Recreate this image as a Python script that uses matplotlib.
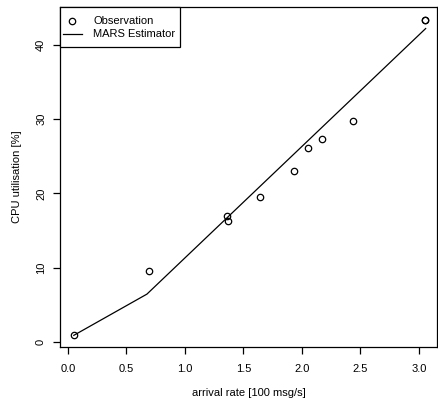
import matplotlib
matplotlib.use("Agg")
import matplotlib.pyplot as plt
from matplotlib.lines import Line2D
from matplotlib.patches import Rectangle

plt.rcParams['font.family'] = ['Liberation Sans', 'DejaVu Sans']

obs_x = [0.05, 0.69, 1.36, 1.37, 1.64, 1.93, 2.05, 2.17, 2.44, 3.05, 3.055]
obs_y = [0.95, 9.5, 16.9, 16.3, 19.5, 23.05, 26.1, 27.3, 29.8, 43.3, 43.3]
mars_x = [0.05, 0.675, 3.057]
mars_y = [0.9, 6.45, 42.2]
xticks = [0.0, 0.5, 1.0, 1.5, 2.0, 2.5, 3.0]
xtick_labels = ["0.0", "0.5", "1.0", "1.5", "2.0", "2.5", "3.0"]
yticks = [0, 10, 20, 30, 40]
ytick_labels = ["0", "10", "20", "30", "40"]
legend_labels = ["Observation", "MARS Estimator"]

W, H = 438, 404
fig = plt.figure(figsize=(W/100, H/100), dpi=100)
ax = fig.add_axes([60/W, (H-347)/H, 377/W, 340/H])

MS = 4.6
ax.plot(mars_x, mars_y, color='black', lw=0.9)
ax.plot(obs_x, obs_y, linestyle='none', marker='o', markersize=MS,
        markerfacecolor='none', markeredgecolor='black', markeredgewidth=0.9)

ax.set_xlim(-0.068, 3.154)
ax.set_ylim(-0.67, 45.1)
ax.set_xticks(xticks)
ax.set_xticklabels(xtick_labels)
ax.set_yticks(yticks)
ax.set_yticklabels(ytick_labels, rotation=90, va='center')
ax.tick_params(direction='out', length=5, width=0.9, labelsize=8)
ax.tick_params(axis='x', pad=7)
ax.tick_params(axis='y', pad=5)
for s in ax.spines.values():
    s.set_linewidth(0.9)

ax.set_xlabel("arrival rate [100 msg/s]", fontsize=8, labelpad=10)
ax.set_ylabel("CPU utilisation [%]", fontsize=8, labelpad=10)

# legend box (R style), placed in figure pixel coordinates
def fx(px):
    return px / W

def fy(py):
    return 1 - py / H

tf = fig.transFigure
fig.patches.append(Rectangle((fx(60), fy(47)), fx(180) - fx(60), fy(7) - fy(47),
                             transform=tf, facecolor='white', edgecolor='black',
                             linewidth=0.9, zorder=5))
fig.add_artist(Line2D([fx(72)], [fy(21)], transform=tf, linestyle='none', marker='o',
                      markersize=MS, markerfacecolor='none', markeredgecolor='black',
                      markeredgewidth=0.9, zorder=6))
fig.add_artist(Line2D([fx(63), fx(82)], [fy(34), fy(34)], transform=tf,
                      color='black', lw=0.9, zorder=6))
fig.text(fx(93), fy(21), legend_labels[0], fontsize=8, va='center', ha='left', zorder=6)
fig.text(fx(93), fy(34), legend_labels[1], fontsize=8, va='center', ha='left', zorder=6)

fig.savefig("out.png", dpi=100)
